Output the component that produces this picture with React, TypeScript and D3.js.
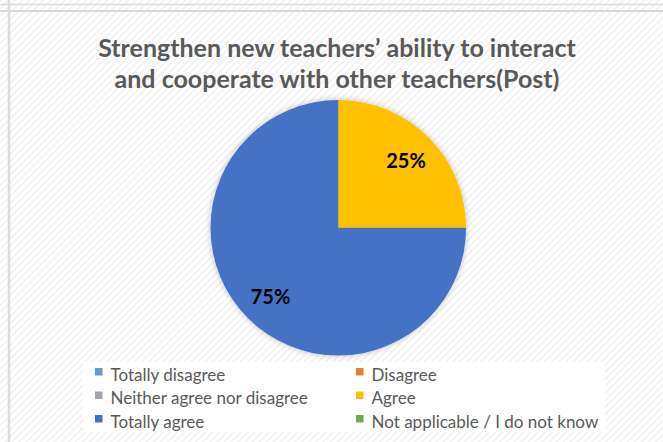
import React from "react";
import * as d3 from "d3";

const categories = [
  "Totally disagree",
  "Disagree",
  "Neither agree nor disagree",
  "Agree",
  "Totally agree",
  "Not applicable / I do not know",
];
const values = [0, 0, 0, 25, 75, 0];
const colors = ["#5B9BD5", "#ED7D31", "#A5A5A5", "#FFC000", "#4472C4", "#70AD47"];
const titleLines = [
  "Strengthen new teachers\u2019 ability to interact",
  "and cooperate with other teachers(Post)",
];

const W = 663;
const H = 442;

export default function App() {
  const cx = 338.3;
  const cy = 227.8;
  const r = 127.8;
  const total = d3.sum(values);
  const pie = d3.pie<number>().sort(null).value((d) => d);
  const arcs = pie(values);
  const arc = d3.arc<d3.PieArcDatum<number>>().innerRadius(0).outerRadius(r);
  const labelArc = d3.arc<d3.PieArcDatum<number>>().innerRadius(r * 0.75).outerRadius(r * 0.75);

  const legendCols = [95, 356];
  const legendRowTop = [368, 391.5, 415];

  return (
    <svg
      width={W}
      height={H}
      style={{ position: "absolute", left: 0, top: 0, display: "block" }}
      fontFamily="Lato, 'Open Sans', sans-serif"
    >
      <defs>
        <pattern id="stripes" width="5" height="5" patternUnits="userSpaceOnUse" patternTransform="rotate(45)">
          <rect width="5" height="5" fill="#ffffff" />
          <rect width="2" height="5" fill="#f3f3f3" />
        </pattern>
        <filter id="shadow" x="-20%" y="-20%" width="140%" height="140%">
          <feGaussianBlur in="SourceAlpha" stdDeviation="3" />
          <feComponentTransfer>
            <feFuncA type="linear" slope="0.25" />
          </feComponentTransfer>
          <feMerge>
            <feMergeNode />
            <feMergeNode in="SourceGraphic" />
          </feMerge>
        </filter>
      </defs>
      <rect x={0} y={0} width={W} height={H} fill="url(#stripes)" />
      {/* frame lines */}
      <line x1={0} x2={W} y1={4.5} y2={4.5} stroke="#dcdcdc" strokeWidth={1.5} />
      <line x1={0} x2={W} y1={11} y2={11} stroke="#d9d9d9" strokeWidth={2} />
      <line x1={9} x2={9} y1={0} y2={H} stroke="#dcdcdc" strokeWidth={2.5} />

      {/* title */}
      {titleLines.map((t, i) => (
        <text
          key={i}
          x={337}
          y={i === 0 ? 56.5 : 87.5}
          textAnchor="middle"
          fontSize={25}
          fontWeight="bold"
          fill="#595959"
          fontFamily="Lato, sans-serif"
        >
          {t}
        </text>
      ))}

      {/* pie */}
      <g transform={`translate(${cx},${cy})`} filter="url(#shadow)">
        {arcs.map((a, i) =>
          a.value > 0 ? <path key={i} d={arc(a) || ""} fill={colors[i]} /> : null
        )}
      </g>
      <g transform={`translate(${cx},${cy})`}>
        {arcs.map((a, i) => {
          if (a.value <= 0) return null;
          const [lx, ly] = labelArc.centroid(a);
          return (
            <text
              key={i}
              x={lx}
              y={ly}
              textAnchor="middle"
              dominantBaseline="central"
              fontSize={20}
              fontWeight="bold"
              fill="#000000"
            >
              {`${Math.round((a.value / total) * 100)}%`}
            </text>
          );
        })}
      </g>

      {/* legend */}
      <rect x={83} y={362} width={522} height={70} fill="#ffffff" opacity={0.85} />
      {categories.map((c, i) => {
        const col = i % 2;
        const row = Math.floor(i / 2);
        const x = legendCols[col];
        const y = legendRowTop[row];
        return (
          <g key={c}>
            <rect x={x} y={y} width={7.5} height={7.5} fill={colors[i]} />
            <text x={x + 15.5} y={y + 12.5} fontSize={17} fill="#595959">
              {c}
            </text>
          </g>
        );
      })}
    </svg>
  );
}
